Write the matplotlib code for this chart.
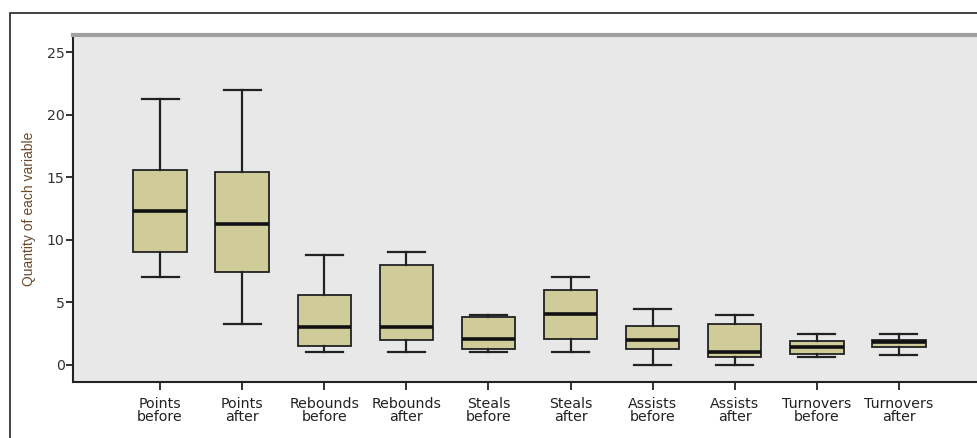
import matplotlib
matplotlib.use("Agg")
import matplotlib.pyplot as plt
from matplotlib.patches import Rectangle

plt.rcParams["font.family"] = ["DejaVu Sans"]

labels = ["Points\nbefore", "Points\nafter", "Rebounds\nbefore", "Rebounds\nafter",
          "Steals\nbefore", "Steals\nafter", "Assists\nbefore", "Assists\nafter",
          "Turnovers\nbefore", "Turnovers\nafter"]
whislo = [7.0, 3.3, 1.0, 1.0, 1.0, 1.0, 0.0, 0.0, 0.6, 0.8]
q1 = [9.0, 7.4, 1.5, 2.0, 1.25, 2.1, 1.25, 0.65, 0.85, 1.45]
med = [12.3, 11.3, 3.0, 3.0, 2.05, 4.1, 2.0, 1.0, 1.4, 1.8]
q3 = [15.6, 15.4, 5.6, 8.0, 3.8, 6.0, 3.1, 3.3, 1.9, 2.0]
whishi = [21.3, 22.0, 8.8, 9.0, 4.0, 7.0, 4.5, 4.0, 2.45, 2.5]
yticks = [0, 5, 10, 15, 20, 25]

stats = [dict(label=l, whislo=a, q1=b, med=c, q3=d, whishi=e)
         for l, a, b, c, d, e in zip(labels, whislo, q1, med, q3, whishi)]

fig = plt.figure(figsize=(9.78, 4.38), dpi=100)
# outer frame
fig.patches.append(Rectangle((10 / 978, -0.1), 1.2, (438 - 13) / 438 + 0.1,
                             transform=fig.transFigure, fill=False,
                             edgecolor="#222222", linewidth=1.2))
ax = fig.add_axes([73 / 978, 56 / 438, 913 / 978, 347 / 438])
ax.set_facecolor("#e8e8e8")

ax.bxp(stats, positions=range(len(stats)), widths=0.65, patch_artist=True,
       showfliers=False,
       boxprops=dict(facecolor="#cfcc99", edgecolor="#222222", linewidth=1.3),
       medianprops=dict(color="#111111", linewidth=2.6),
       whiskerprops=dict(color="#222222", linewidth=1.6),
       capprops=dict(color="#222222", linewidth=1.6),
       capwidths=0.45)

ax.set_xlim(-1.06, 10.06)
ax.set_ylim(-1.36, 26.38)
ax.set_yticks(yticks)
ax.set_xticks(range(len(labels)))
ax.set_xticklabels(labels, fontsize=10.2, linespacing=0.88, color="#222222")
ax.tick_params(axis="y", labelsize=10.2, labelcolor="#333333", length=5, width=1.3,
               color="#222222", pad=1)
ax.tick_params(axis="x", length=6, width=1.3, color="#222222", pad=5)

for s in ["left", "bottom"]:
    ax.spines[s].set_color("#222222")
    ax.spines[s].set_linewidth(1.5)
ax.spines["top"].set_color("#a0a0a0")
ax.spines["top"].set_linewidth(3)
ax.spines["right"].set_visible(False)

ax.set_ylabel("Quantity of each variable", fontsize=10, color="#6b4a2a",
              family="Liberation Sans", labelpad=8)

fig.savefig("out.png", dpi=100)
